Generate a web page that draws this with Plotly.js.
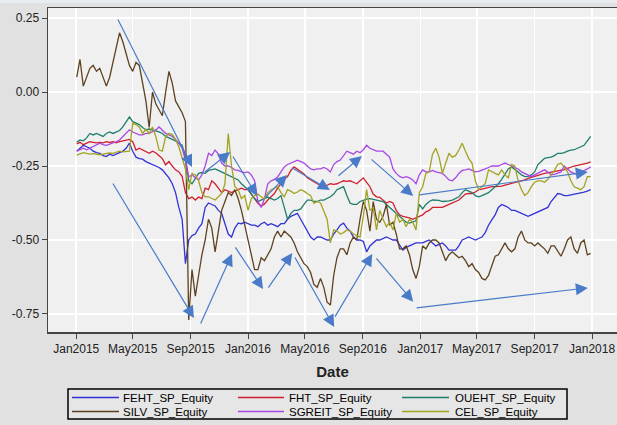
<!DOCTYPE html>
<html><head><meta charset="utf-8">
<script src="https://cdn.plot.ly/plotly-3.0.1.min.js"></script>
<style>html,body{margin:0;padding:0;background:#e1e1e1;}#chart{width:617px;height:425px;}</style>
</head><body><div id="chart"></div>
<script>
// Weekly observations (Fridays) starting 2015-01-02
const startDate = '2015-01-02';
const seriesNames = ['FEHT_SP_Equity','FHT_SP_Equity','OUEHT_SP_Equity','SILV_SP_Equity','SGREIT_SP_Equity','CEL_SP_Equity'];
const seriesColors = ['#3232d6','#d0202e','#1f7d6c','#5e4220','#a947e6','#a3a323'];

const FEHT = [-0.2,-0.19,-0.18,-0.185,-0.19,-0.2,-0.205,-0.207,-0.215,-0.218,
-0.21,-0.215,-0.21,-0.205,-0.2,-0.19,-0.173,-0.2,-0.22,-0.225,
-0.227,-0.235,-0.24,-0.245,-0.25,-0.255,-0.263,-0.275,-0.29,-0.31,
-0.34,-0.39,-0.43,-0.58,-0.5,-0.485,-0.48,-0.46,-0.445,-0.39,
-0.375,-0.38,-0.385,-0.4,-0.41,-0.445,-0.48,-0.49,-0.46,-0.443,
-0.445,-0.44,-0.445,-0.45,-0.45,-0.455,-0.445,-0.44,-0.45,-0.445,
-0.45,-0.455,-0.445,-0.445,-0.43,-0.42,-0.415,-0.41,-0.43,-0.45,
-0.475,-0.49,-0.5,-0.49,-0.49,-0.495,-0.5,-0.5,-0.48,-0.466,
-0.45,-0.443,-0.46,-0.47,-0.49,-0.5,-0.5,-0.505,-0.54,-0.52,
-0.51,-0.5,-0.5,-0.495,-0.49,-0.495,-0.5,-0.5,-0.515,-0.534,
-0.525,-0.52,-0.515,-0.51,-0.51,-0.51,-0.505,-0.5,-0.51,-0.52,
-0.515,-0.51,-0.52,-0.534,-0.534,-0.534,-0.52,-0.5,-0.495,-0.49,
-0.495,-0.5,-0.495,-0.49,-0.475,-0.45,-0.432,-0.415,-0.39,-0.38,
-0.385,-0.39,-0.4,-0.4,-0.405,-0.41,-0.415,-0.42,-0.415,-0.41,
-0.405,-0.4,-0.395,-0.39,-0.37,-0.355,-0.343,-0.345,-0.35,-0.35,
-0.348,-0.345,-0.343,-0.34,-0.338,-0.335,-0.33];

const FHT = [-0.175,-0.17,-0.178,-0.172,-0.168,-0.17,-0.172,-0.17,-0.172,-0.168,
-0.17,-0.168,-0.172,-0.168,-0.165,-0.162,-0.16,-0.168,-0.196,-0.19,
-0.196,-0.2,-0.207,-0.2,-0.205,-0.215,-0.225,-0.246,-0.235,-0.25,
-0.263,-0.27,-0.285,-0.34,-0.36,-0.355,-0.365,-0.355,-0.36,-0.325,
-0.33,-0.3,-0.31,-0.325,-0.34,-0.33,-0.335,-0.34,-0.335,-0.33,
-0.325,-0.33,-0.33,-0.345,-0.36,-0.376,-0.385,-0.378,-0.365,-0.355,
-0.343,-0.325,-0.31,-0.295,-0.286,-0.265,-0.253,-0.262,-0.27,-0.277,
-0.29,-0.297,-0.305,-0.31,-0.315,-0.32,-0.315,-0.31,-0.312,-0.31,
-0.305,-0.3,-0.302,-0.3,-0.305,-0.31,-0.3,-0.29,-0.305,-0.32,
-0.345,-0.354,-0.356,-0.365,-0.375,-0.37,-0.375,-0.4,-0.415,-0.42,
-0.422,-0.425,-0.43,-0.425,-0.42,-0.415,-0.405,-0.4,-0.39,-0.39,
-0.392,-0.39,-0.385,-0.38,-0.376,-0.37,-0.365,-0.355,-0.345,-0.343,
-0.343,-0.338,-0.33,-0.328,-0.325,-0.322,-0.32,-0.32,-0.32,-0.318,
-0.315,-0.312,-0.31,-0.308,-0.303,-0.3,-0.297,-0.292,-0.288,-0.286,
-0.282,-0.278,-0.275,-0.273,-0.272,-0.27,-0.268,-0.265,-0.262,-0.258,
-0.253,-0.25,-0.248,-0.246,-0.244,-0.24,-0.236];

const OUEHT = [-0.17,-0.162,-0.165,-0.155,-0.14,-0.145,-0.14,-0.145,-0.15,-0.14,
-0.135,-0.14,-0.135,-0.13,-0.118,-0.1,-0.084,-0.1,-0.105,-0.11,
-0.12,-0.128,-0.125,-0.128,-0.13,-0.135,-0.14,-0.15,-0.155,-0.16,
-0.165,-0.173,-0.18,-0.22,-0.3,-0.31,-0.29,-0.275,-0.272,-0.275,
-0.265,-0.263,-0.26,-0.265,-0.27,-0.275,-0.28,-0.285,-0.29,-0.297,
-0.31,-0.32,-0.33,-0.345,-0.36,-0.37,-0.365,-0.36,-0.355,-0.36,
-0.365,-0.36,-0.35,-0.39,-0.43,-0.41,-0.4,-0.4,-0.395,-0.38,
-0.365,-0.365,-0.37,-0.37,-0.365,-0.365,-0.36,-0.354,-0.345,-0.33,
-0.325,-0.32,-0.35,-0.376,-0.38,-0.38,-0.37,-0.365,-0.362,-0.36,
-0.363,-0.365,-0.368,-0.37,-0.38,-0.39,-0.4,-0.41,-0.42,-0.43,
-0.44,-0.443,-0.44,-0.435,-0.38,-0.395,-0.38,-0.37,-0.365,-0.365,
-0.366,-0.37,-0.37,-0.368,-0.365,-0.36,-0.354,-0.34,-0.33,-0.335,
-0.34,-0.35,-0.354,-0.35,-0.345,-0.34,-0.33,-0.32,-0.31,-0.295,
-0.275,-0.26,-0.253,-0.26,-0.27,-0.28,-0.286,-0.285,-0.28,-0.27,
-0.245,-0.235,-0.224,-0.222,-0.22,-0.215,-0.207,-0.207,-0.205,-0.2,
-0.196,-0.195,-0.19,-0.185,-0.18,-0.165,-0.15];

const SILV = [0.05,0.11,0.02,0.05,0.08,0.09,0.07,0.08,0.05,0.02,
0.05,0.1,0.14,0.2,0.17,0.13,0.09,0.07,0.1,0.09,
0.03,-0.03,-0.12,0.0,-0.04,-0.06,-0.08,0.0,0.07,0.03,
-0.03,-0.05,-0.07,-0.1,-0.77,-0.6,-0.69,-0.62,-0.55,-0.5,
-0.43,-0.46,-0.54,-0.47,-0.4,-0.37,-0.34,-0.35,-0.33,-0.36,
-0.4,-0.45,-0.5,-0.55,-0.6,-0.6,-0.56,-0.57,-0.55,-0.53,
-0.49,-0.47,-0.49,-0.47,-0.48,-0.49,-0.51,-0.54,-0.56,-0.58,
-0.59,-0.61,-0.65,-0.66,-0.63,-0.66,-0.71,-0.72,-0.62,-0.56,
-0.53,-0.53,-0.55,-0.51,-0.49,-0.5,-0.43,-0.37,-0.4,-0.47,
-0.37,-0.43,-0.44,-0.42,-0.38,-0.45,-0.44,-0.48,-0.53,-0.53,
-0.52,-0.55,-0.6,-0.63,-0.59,-0.52,-0.53,-0.51,-0.5,-0.5,
-0.51,-0.54,-0.57,-0.55,-0.54,-0.55,-0.56,-0.555,-0.57,-0.59,
-0.58,-0.6,-0.61,-0.63,-0.635,-0.62,-0.59,-0.555,-0.55,-0.53,
-0.51,-0.53,-0.54,-0.53,-0.49,-0.47,-0.5,-0.51,-0.51,-0.52,
-0.51,-0.52,-0.53,-0.545,-0.52,-0.52,-0.54,-0.555,-0.53,-0.5,
-0.49,-0.53,-0.545,-0.51,-0.5,-0.55,-0.545];

const SGREIT = [-0.2,-0.195,-0.19,-0.195,-0.19,-0.185,-0.18,-0.173,-0.178,-0.18,
-0.176,-0.173,-0.168,-0.162,-0.15,-0.14,-0.128,-0.135,-0.14,-0.145,
-0.145,-0.14,-0.14,-0.135,-0.128,-0.118,-0.13,-0.14,-0.145,-0.15,
-0.16,-0.173,-0.19,-0.23,-0.287,-0.28,-0.29,-0.297,-0.28,-0.25,
-0.207,-0.215,-0.196,-0.21,-0.24,-0.25,-0.25,-0.255,-0.263,-0.265,
-0.27,-0.272,-0.27,-0.28,-0.3,-0.37,-0.39,-0.36,-0.31,-0.3,
-0.295,-0.287,-0.27,-0.253,-0.245,-0.24,-0.235,-0.23,-0.235,-0.24,
-0.25,-0.26,-0.263,-0.26,-0.26,-0.255,-0.26,-0.27,-0.245,-0.235,
-0.23,-0.215,-0.2,-0.205,-0.21,-0.2,-0.205,-0.195,-0.18,-0.19,
-0.195,-0.2,-0.2,-0.2,-0.21,-0.22,-0.26,-0.275,-0.285,-0.29,
-0.286,-0.29,-0.297,-0.31,-0.28,-0.263,-0.27,-0.27,-0.265,-0.27,
-0.272,-0.275,-0.285,-0.297,-0.3,-0.29,-0.275,-0.265,-0.263,-0.26,
-0.265,-0.27,-0.268,-0.265,-0.26,-0.255,-0.25,-0.25,-0.25,-0.245,
-0.24,-0.245,-0.25,-0.255,-0.26,-0.27,-0.275,-0.28,-0.286,-0.28,
-0.275,-0.27,-0.263,-0.27,-0.28,-0.278,-0.275,-0.27,-0.25,-0.26,
-0.27,-0.275,-0.28,-0.275,-0.265,-0.26,-0.253];

const CEL = [-0.213,-0.21,-0.205,-0.207,-0.21,-0.208,-0.21,-0.212,-0.21,-0.208,
-0.206,-0.207,-0.204,-0.2,-0.202,-0.2,-0.2,-0.106,-0.11,-0.118,
-0.14,-0.125,-0.14,-0.118,-0.15,-0.196,-0.2,-0.15,-0.14,-0.143,
-0.16,-0.185,-0.22,-0.26,-0.33,-0.275,-0.28,-0.3,-0.34,-0.354,
-0.354,-0.36,-0.365,-0.354,-0.343,-0.31,-0.14,-0.25,-0.32,-0.33,
-0.36,-0.35,-0.4,-0.36,-0.35,-0.345,-0.355,-0.36,-0.34,-0.33,
-0.325,-0.32,-0.34,-0.354,-0.33,-0.335,-0.343,-0.338,-0.33,-0.335,
-0.343,-0.35,-0.376,-0.37,-0.375,-0.4,-0.43,-0.51,-0.466,-0.47,
-0.48,-0.475,-0.466,-0.47,-0.48,-0.485,-0.49,-0.42,-0.33,-0.4,
-0.39,-0.466,-0.4,-0.43,-0.455,-0.44,-0.466,-0.41,-0.44,-0.43,
-0.455,-0.43,-0.44,-0.466,-0.34,-0.32,-0.275,-0.27,-0.21,-0.19,
-0.22,-0.275,-0.24,-0.207,-0.22,-0.215,-0.196,-0.173,-0.2,-0.225,
-0.24,-0.3,-0.33,-0.32,-0.31,-0.263,-0.27,-0.275,-0.28,-0.263,
-0.28,-0.29,-0.245,-0.25,-0.3,-0.33,-0.35,-0.34,-0.32,-0.305,
-0.3,-0.3,-0.305,-0.295,-0.28,-0.265,-0.245,-0.24,-0.255,-0.27,
-0.3,-0.32,-0.325,-0.33,-0.32,-0.286,-0.286];

const seriesValues = [FEHT, FHT, OUEHT, SILV, SGREIT, CEL];

// Tick labels
const yTickVals = [-0.75, -0.5, -0.25, 0, 0.25];
const yTickText = ['-0.75', '-0.50', '-0.25', '0.00', '0.25'];

// Trend arrows (tail -> head) in data units
const arrowTailX = ['2015-03-29','2015-09-28','2015-11-28','2016-02-04','2016-03-31','2016-07-08','2016-09-16','2016-12-27',
                    '2015-03-18','2015-09-21','2015-12-03','2016-02-11','2016-04-08','2016-07-02','2016-09-27','2016-12-21'];
const arrowTailY = [0.25,-0.274,-0.213,-0.361,-0.253,-0.287,-0.223,-0.348,
                    -0.304,-0.787,-0.52,-0.666,-0.554,-0.764,-0.557,-0.73];
const arrowHeadX = ['2015-09-04','2015-11-24','2016-01-20','2016-03-24','2016-06-23','2016-08-30','2016-12-17','2017-12-23',
                    '2015-09-08','2015-11-28','2016-02-02','2016-04-04','2016-07-02','2016-09-21','2016-12-17','2017-12-23'];
const arrowHeadY = [-0.253,-0.203,-0.351,-0.28,-0.331,-0.216,-0.351,-0.27,
                    -0.764,-0.547,-0.666,-0.544,-0.794,-0.547,-0.709,-0.662];

function weekDates(n) {
  const base = new Date(startDate + 'T00:00:00Z');
  const out = [];
  for (let i = 0; i < n; i++) {
    const d = new Date(base.getTime() + i * 7 * 86400000);
    out.push(d.toISOString().slice(0, 10));
  }
  return out;
}
const dates = weekDates(FEHT.length);

const traces = seriesNames.map((name, k) => ({
  type: 'scatter', mode: 'lines', name: name,
  x: dates, y: seriesValues[k],
  line: {color: seriesColors[k], width: 1.3},
  showlegend: false, hoverinfo: 'skip'
}));

const arrowColor = '#4a7bc8';
const annotations = arrowHeadX.map((hx, k) => ({
  x: hx, y: arrowHeadY[k], xref: 'x', yref: 'y',
  ax: arrowTailX[k], ay: arrowTailY[k], axref: 'x', ayref: 'y',
  text: '', showarrow: true, arrowhead: 2, arrowsize: 2, arrowwidth: 1.2,
  arrowcolor: arrowColor, standoff: 0, startstandoff: 0
}));

// Custom legend box (3 columns x 2 rows), paper coordinates
const W = 617, H = 425, ML = 48, MR = 0, MT = 8, MB = 93;
const pw = W - ML - MR, ph = H - MT - MB;
const px = v => (v - ML) / pw;
const py = v => (H - MB - v) / ph;
const shapes = [
  {type: 'rect', xref: 'paper', yref: 'paper',
   x0: px(0), x1: px(W), y0: py(3), y1: py(0),
   line: {width: 0}, fillcolor: '#eaedf0', layer: 'below'},
  {type: 'rect', xref: 'paper', yref: 'paper',
   x0: px(68), x1: px(567), y0: py(419), y1: py(389),
   line: {color: '#000000', width: 1.5}, fillcolor: '#e6e6e6', layer: 'below'}
];
const colLineX = [[72, 119], [238, 284], [402, 449]];
const colTextX = [122, 288, 454];
const rowY = [397.5, 411.5];
seriesNames.forEach((name, k) => {
  const c = k % 3, r = Math.floor(k / 3);
  shapes.push({type: 'line', xref: 'paper', yref: 'paper',
    x0: px(colLineX[c][0]), x1: px(colLineX[c][1]), y0: py(rowY[r]), y1: py(rowY[r]),
    line: {color: seriesColors[k], width: 1.3}});
  annotations.push({xref: 'paper', yref: 'paper', x: px(colTextX[c]), y: py(rowY[r]),
    xanchor: 'left', yanchor: 'middle', text: name, showarrow: false,
    font: {family: 'Liberation Sans, Arial, sans-serif', size: 11.5, color: '#000'}, borderpad: 0});
});

const layout = {
  width: W, height: H,
  margin: {l: ML, r: MR, t: MT, b: MB, pad: 0},
  paper_bgcolor: '#e1e1e1', plot_bgcolor: '#f0f0f0',
  font: {family: 'Liberation Sans, Arial, sans-serif', size: 12, color: '#222'},
  showlegend: false,
  xaxis: {
    type: 'date', range: ['2014-11-02', '2018-02-23'],
    tick0: '2015-01-01', dtick: 'M4', tickformat: '%b%Y',
    ticks: 'outside', ticklen: 5, tickcolor: '#444', tickwidth: 1,
    showline: true, linecolor: '#444', linewidth: 1.5, mirror: true,
    showgrid: true, gridcolor: '#ffffff', gridwidth: 1.5, zeroline: false,
    tickfont: {size: 12, color: '#222'},
    title: {text: '<b>Date</b>', font: {size: 15, color: '#222'}, standoff: 11}
  },
  yaxis: {
    range: [-0.811, 0.284], tickvals: yTickVals, ticktext: yTickText,
    ticks: 'outside', ticklen: 5, tickcolor: '#444', tickwidth: 1,
    showline: true, linecolor: '#444', linewidth: 1.5, mirror: false,
    showgrid: true, gridcolor: '#ffffff', gridwidth: 1.5, zeroline: false,
    tickfont: {size: 12, color: '#222'}
  },
  shapes: shapes,
  annotations: annotations
};

Plotly.newPlot('chart', traces, layout, {displayModeBar: false, staticPlot: true});
</script>
</body></html>
